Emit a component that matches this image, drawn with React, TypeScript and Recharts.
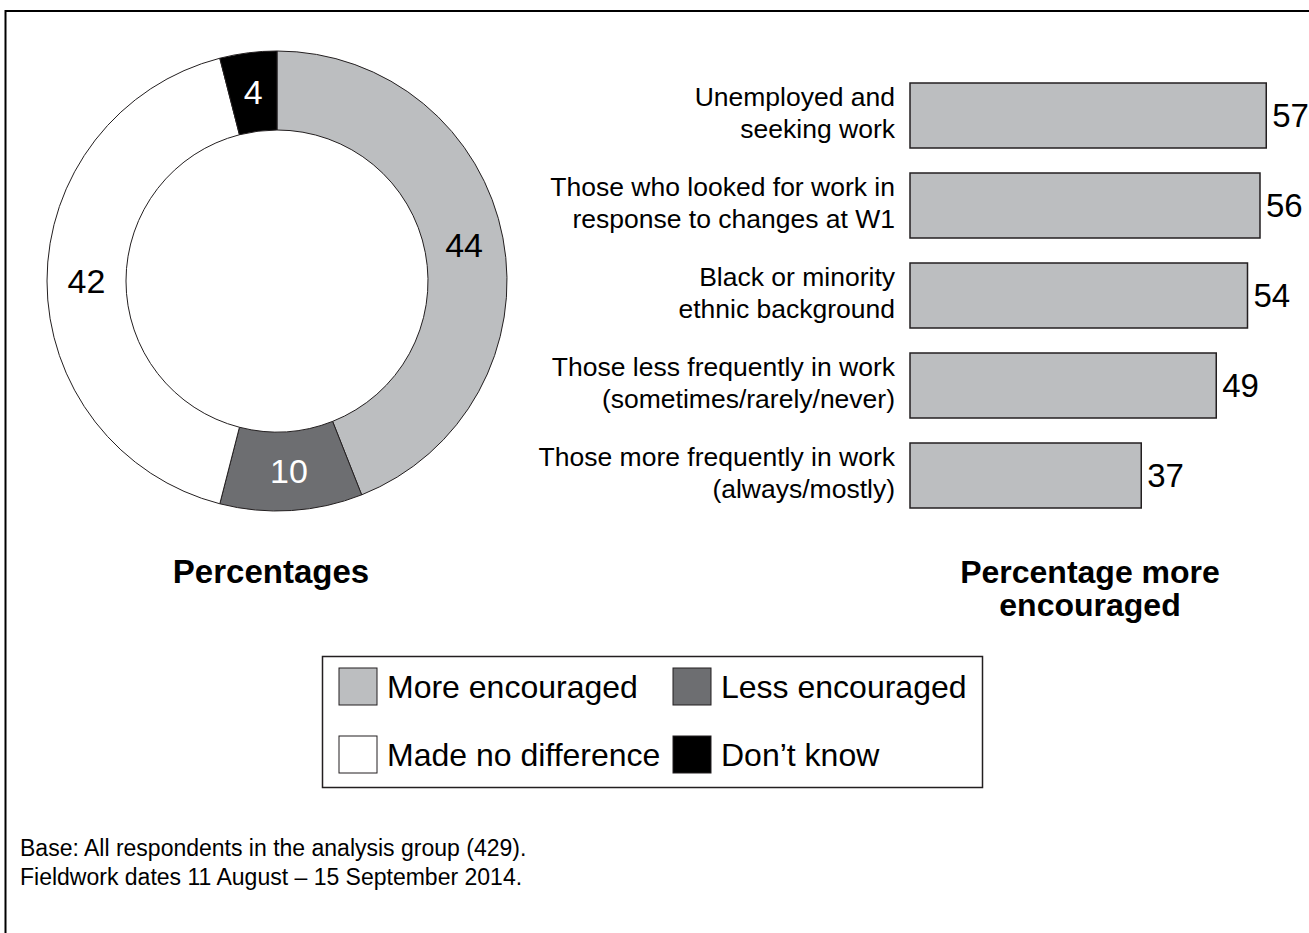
import { Bar, BarChart, Cell, LabelList, Pie, PieChart, XAxis, YAxis } from 'recharts'

const FONT = '"Liberation Sans", Arial, Helvetica, sans-serif'

// doughnut: share of respondents
const pieNames = ['More encouraged', 'Less encouraged', 'Made no difference', 'Don\u2019t know']
const pieValues = [44, 10, 42, 4]
const pieColors = ['#bcbec0', '#6d6e71', '#ffffff', '#000000']
const pieLabelColors = ['#000000', '#ffffff', '#000000', '#ffffff']

// bars: percentage more encouraged by group
const barCategories = [
  ['Unemployed and', 'seeking work'],
  ['Those who looked for work in', 'response to changes at W1'],
  ['Black or minority', 'ethnic background'],
  ['Those less frequently in work', '(sometimes/rarely/never)'],
  ['Those more frequently in work', '(always/mostly)'],
]
const barValues = [57, 56, 54, 49, 37]

const footnotes = [
  'Base: All respondents in the analysis group (429).',
  'Fieldwork dates 11 August \u2013 15 September 2014.',
]

const pieData = pieNames.map((name, i) => ({ name, value: pieValues[i] }))
const barData = barCategories.map((lines, i) => ({ name: lines.join('|'), value: barValues[i] }))

const RADIAN = Math.PI / 180

const PieValueLabel = (props: any) => {
  const { cx, cy, midAngle, innerRadius, outerRadius, value, index } = props
  const r = (innerRadius + outerRadius) / 2
  const x = cx + r * Math.cos(-midAngle * RADIAN)
  const y = cy + r * Math.sin(-midAngle * RADIAN)
  return (
    <text
      x={x}
      y={y}
      fill={pieLabelColors[index]}
      textAnchor="middle"
      dominantBaseline="central"
      fontSize={34}
      fontFamily={FONT}
    >
      {value}
    </text>
  )
}

const CategoryTick = (props: any) => {
  const { x, y, payload } = props
  const lines = String(payload.value).split('|')
  return (
    <text x={x} y={y} textAnchor="end" fontSize={26.5} fontFamily={FONT} fill="#000">
      <tspan x={x} y={y - 9.5}>{lines[0]}</tspan>
      <tspan x={x} y={y + 22.5}>{lines[1]}</tspan>
    </text>
  )
}

const legendCols = [339, 673]
const legendRows = [668, 736]

export default function App() {
  return (
    <div
      style={{
        position: 'absolute',
        left: 0,
        top: 0,
        width: 1309,
        height: 933,
        overflow: 'hidden',
        background: '#fff',
        fontFamily: FONT,
      }}
    >
      <div style={{ position: 'absolute', left: 0, top: 0 }}>
        <PieChart width={520} height={540} margin={{ top: 0, right: 0, bottom: 0, left: 0 }}>
          <Pie
            data={pieData}
            dataKey="value"
            nameKey="name"
            cx={277}
            cy={281}
            innerRadius={151}
            outerRadius={230}
            startAngle={90}
            endAngle={-270}
            stroke="#231f20"
            strokeWidth={1}
            labelLine={false}
            label={PieValueLabel}
            isAnimationActive={false}
          >
            {pieData.map((d, i) => (
              <Cell key={d.name} fill={pieColors[i]} />
            ))}
          </Pie>
        </PieChart>
      </div>

      <div style={{ position: 'absolute', left: 520, top: 0 }}>
        <BarChart
          width={789}
          height={560}
          data={barData}
          layout="vertical"
          margin={{ top: 70, right: 24, bottom: 40, left: 0 }}
        >
          <XAxis type="number" domain={[0, 60]} hide />
          <YAxis
            type="category"
            dataKey="name"
            width={390}
            axisLine={false}
            tickLine={false}
            tickSize={0}
            tickMargin={15}
            interval={0}
            tick={<CategoryTick />}
          />
          <Bar
            dataKey="value"
            fill="#bcbec0"
            stroke="#231f20"
            strokeWidth={1.5}
            barSize={65}
            isAnimationActive={false}
          >
            <LabelList
              dataKey="value"
              position="right"
              offset={6}
              fontSize={33}
              fontFamily={FONT}
              fill="#000"
            />
          </Bar>
        </BarChart>
      </div>

      <svg
        width={1309}
        height={933}
        style={{ position: 'absolute', left: 0, top: 0, pointerEvents: 'none' }}
        fontFamily={FONT}
      >
        {/* frame, only top and left edges fall inside the picture */}
        <rect x={5.5} y={11} width={1400} height={1000} fill="none" stroke="#000" strokeWidth={2} />

        <text x={271} y={583} textAnchor="middle" fontSize={33} fontWeight="bold">
          Percentages
        </text>
        <text x={1090} y={583} textAnchor="middle" fontSize={32} fontWeight="bold">
          Percentage more
        </text>
        <text x={1090} y={616} textAnchor="middle" fontSize={32} fontWeight="bold">
          encouraged
        </text>

        <rect x={322.5} y={656.5} width={660} height={131} fill="#fff" stroke="#231f20" strokeWidth={1.5} />
        {pieNames.map((name, i) => {
          const sx = legendCols[i % 2]
          const sy = legendRows[Math.floor(i / 2)]
          return (
            <g key={name}>
              <rect x={sx} y={sy} width={38} height={37} fill={pieColors[i]} stroke="#231f20" strokeWidth={1} />
              <text x={sx + 48} y={sy + 30} fontSize={32} fill="#000">
                {name}
              </text>
            </g>
          )
        })}

        {footnotes.map((t, i) => (
          <text key={t} x={20} y={856 + i * 29} fontSize={23} fill="#000">
            {t}
          </text>
        ))}
      </svg>
    </div>
  )
}
